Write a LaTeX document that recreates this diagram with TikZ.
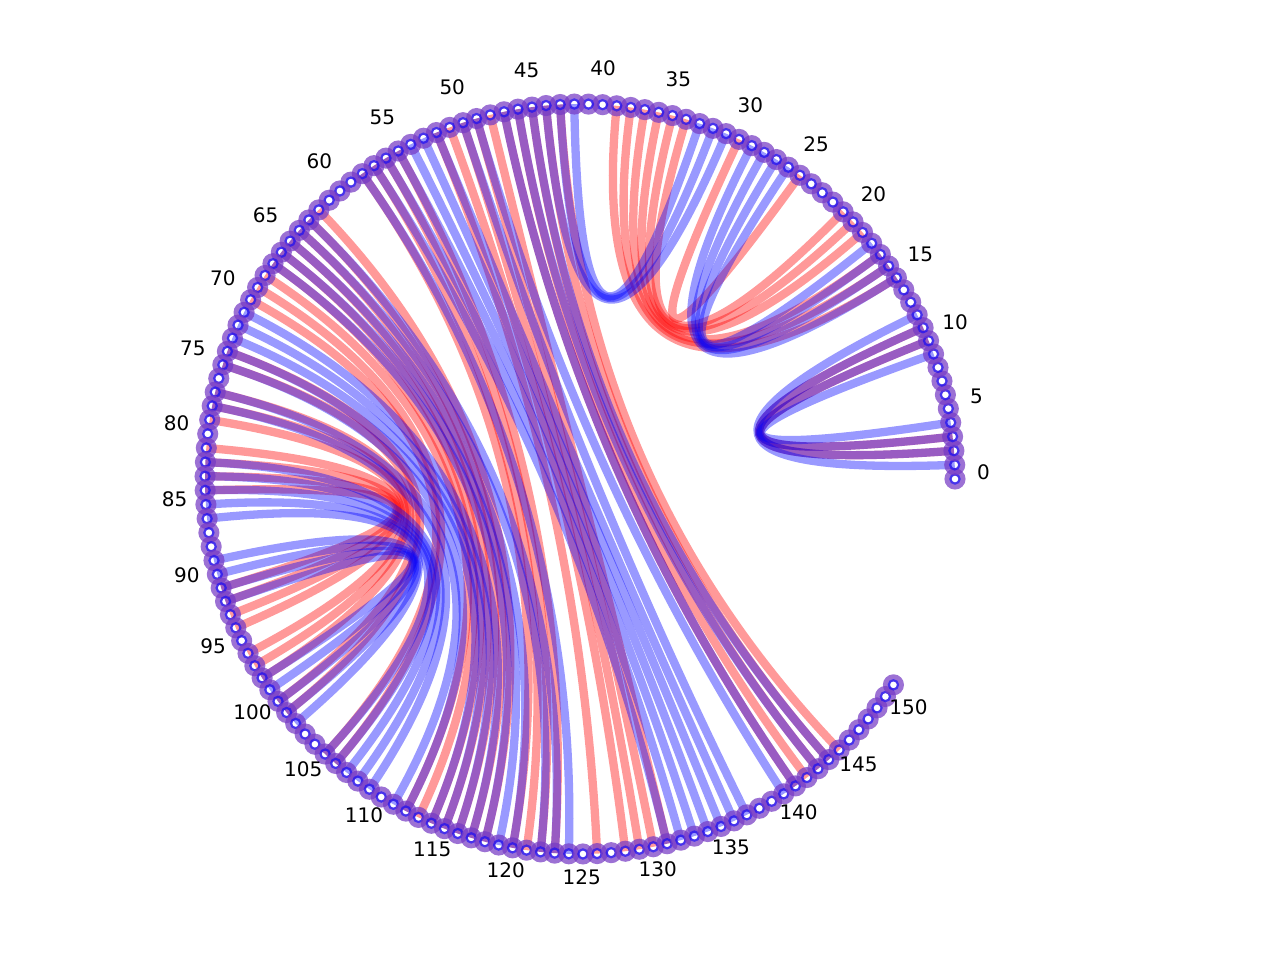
\documentclass[tikz,border=0pt]{standalone}
\usepackage{fontspec}
\setmainfont{DejaVu Sans}
\usepackage{tikz}
\usetikzlibrary{calc}

\definecolor{ringpurple}{RGB}{118,58,196}

\begin{document}
\begin{tikzpicture}[
  x=1pt, y=1pt,
  redarc/.style={draw=red, line width=8.3pt, opacity=0.4},
  bluearc/.style={draw=blue, line width=8.3pt, opacity=0.4},
  ring/.style={circle, draw=ringpurple, line width=7pt, minimum size=14pt, inner sep=0pt, opacity=0.72},
  inring/.style={circle, draw=blue, line width=2.2pt, minimum size=9.2pt, inner sep=0pt, opacity=0.55},
  idx/.style={font=\fontsize{20}{23}\selectfont, text=black, inner sep=0pt, xshift=-1.4pt, yshift=7pt}
]
\useasboundingbox (0,0) rectangle (1280,960);
\begin{scope}[shift={(580,481)}]
\coordinate (c) at (0,0);
\foreach \k in {0,...,151}
  \coordinate (p\k) at ({\k*2.1636}:375);
% pairs of the red structure
\foreach \a/\b in {2/11, 3/10, 15/39, 16/38, 17/37, 19/36, 20/35, 21/34, 25/30,
    84/91, 83/92, 82/93, 81/94, 79/96, 78/97, 77/98, 75/100, 74/101, 70/105,
    69/106, 68/112, 67/113, 66/114, 65/115, 64/116, 63/117, 62/118, 58/120,
    57/121, 56/122, 55/123, 52/126, 51/128, 50/129, 49/130, 48/131, 47/141,
    46/142, 45/143, 44/144, 43/145}
  \draw[redarc] (p\a) .. controls ($(p\a)!0.6667!(c)$) and ($(p\b)!0.6667!(c)$) .. (p\b);
% pairs of the blue structure
\foreach \a/\b in {1/12, 2/11, 3/10, 4/9, 15/29, 16/28, 17/27, 18/26, 31/44,
    32/43, 33/42, 92/98, 91/99, 90/100, 89/101, 86/102, 85/105, 84/106, 83/107,
    82/108, 78/109, 77/111, 75/112, 74/114, 73/115, 72/116, 71/117, 67/118,
    66/119, 65/120, 64/122, 63/123, 58/124, 57/131, 56/132, 55/133, 54/134,
    53/135, 52/136, 50/137, 49/140, 47/141, 46/143, 45/144}
  \draw[bluearc] (p\a) .. controls ($(p\a)!0.6667!(c)$) and ($(p\b)!0.6667!(c)$) .. (p\b);
% backbone
\foreach \k in {0,...,151} {
  \node[ring] (m\k) at (p\k) {};
  \node[inring] (q\k) at (p\k) {};
}
\foreach \k in {0,5,...,150}
  \node[idx] (l\k) at ({\k*2.1636}:405) {\k};
\end{scope}
\end{tikzpicture}
\end{document}
